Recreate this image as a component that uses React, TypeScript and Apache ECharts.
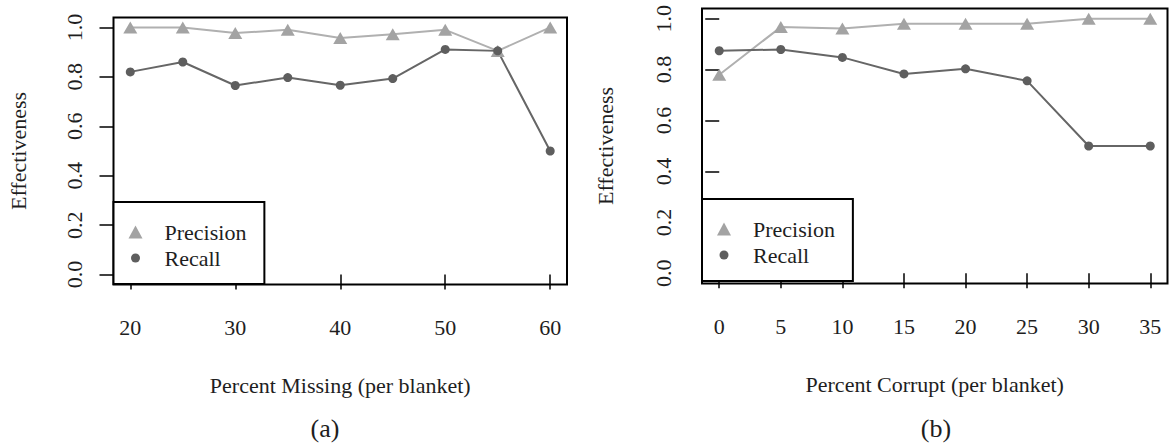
import React, { useEffect, useRef } from "react";
import * as echarts from "echarts";

const missingPct = [20, 25, 30, 35, 40, 45, 50, 55, 60];
const precisionMissing = [1.0, 1.0, 0.977, 0.99, 0.957, 0.972, 0.99, 0.905, 1.0];
const recallMissing = [0.82, 0.86, 0.765, 0.797, 0.766, 0.793, 0.911, 0.905, 0.5];

const corruptPct = [0, 5, 10, 15, 20, 25, 30, 35];
const precisionCorrupt = [0.78, 0.967, 0.961, 0.98, 0.98, 0.98, 1.0, 1.0];
const recallCorrupt = [0.874, 0.879, 0.848, 0.783, 0.803, 0.756, 0.5, 0.5];

const missingTicks = [20, 30, 40, 50, 60];
const corruptTicks = [0, 5, 10, 15, 20, 25, 30, 35];
const yTicks = [0, 0.2, 0.4, 0.6, 0.8, 1.0];

const FONT = "Liberation Serif";
const TXT = "#1e1e1e";
const PREC_COLOR = "#a3a3a3";
const REC_COLOR = "#5e5e5e";
const CIRCLE_ICON =
  "path://M0,0M14,13M2.5,6.5A4.5,4.5,0,1,1,11.5,6.5A4.5,4.5,0,1,1,2.5,6.5Z";

function pair(xs: number[], ys: number[]) {
  return xs.map((x, i) => [x, ys[i]]);
}

function xAxisCfg(grid: number, min: number, max: number, ticks: number[], name: string) {
  return {
    gridIndex: grid,
    type: "value",
    min,
    max,
    axisLine: { show: false },
    splitLine: { show: false },
    axisTick: { show: true, length: 15, customValues: ticks, lineStyle: { color: "#000", width: 1.5 } },
    axisLabel: { customValues: ticks, fontSize: 22, fontFamily: FONT, color: TXT, margin: 32 },
    name,
    nameLocation: "middle",
    nameGap: 90,
    nameTextStyle: { fontSize: 22, fontFamily: FONT, color: TXT },
  };
}

function yAxisCfg(grid: number, gap: number) {
  return {
    gridIndex: grid,
    type: "value",
    min: -0.04,
    max: 1.04,
    axisLine: { show: false },
    splitLine: { show: false },
    axisTick: { show: true, length: 14, customValues: yTicks, lineStyle: { color: "#000", width: 1.5 } },
    axisLabel: {
      customValues: yTicks,
      rotate: 90,
      fontSize: 22,
      fontFamily: FONT,
      color: TXT,
      margin: 28,
      formatter: (v: number) => v.toFixed(1),
    },
    name: "Effectiveness",
    nameLocation: "middle",
    nameGap: gap,
    nameTextStyle: { fontSize: 22, fontFamily: FONT, color: TXT },
  };
}

function legendCfg(left: number, top: number) {
  return {
    orient: "vertical",
    left,
    top,
    padding: [19, 18, 15, 15],
    itemWidth: 14,
    itemHeight: 13,
    itemGap: 4,
    borderColor: "#000",
    borderWidth: 2,
    borderRadius: 0,
    backgroundColor: "#fff",
    selectedMode: false,
    textStyle: { fontSize: 22, fontFamily: FONT, color: TXT, lineHeight: 22, padding: [0, 0, 0, 17] },
    data: [
      { name: "Precision", icon: "triangle", itemStyle: { color: PREC_COLOR } },
      { name: "Recall", icon: CIRCLE_ICON, itemStyle: { color: REC_COLOR } },
    ],
  };
}

function precSeries(axisIdx: number, data: number[][]) {
  return {
    name: "Precision",
    type: "line",
    xAxisIndex: axisIdx,
    yAxisIndex: axisIdx,
    data,
    symbol: "triangle",
    symbolSize: [14, 12],
    lineStyle: { color: "#b0b0b0", width: 2 },
    itemStyle: { color: PREC_COLOR },
  };
}

function recSeries(axisIdx: number, data: number[][]) {
  return {
    name: "Recall",
    type: "line",
    xAxisIndex: axisIdx,
    yAxisIndex: axisIdx,
    data,
    symbol: "circle",
    symbolSize: 9,
    lineStyle: { color: "#666666", width: 2 },
    itemStyle: { color: REC_COLOR },
  };
}

export default function App() {
  const ref = useRef<HTMLDivElement>(null);
  useEffect(() => {
    document.body.style.margin = "0";
    const chart = echarts.init(ref.current!, null, { renderer: "svg" });
    chart.setOption({
      animation: false,
      backgroundColor: "#fff",
      grid: [
        { left: 113.5, top: 17.5, width: 453.5, height: 267, show: true, borderColor: "#000", borderWidth: 2, containLabel: false },
        { left: 702, top: 8.5, width: 465.5, height: 275, show: true, borderColor: "#000", borderWidth: 2, containLabel: false },
      ],
      xAxis: [
        xAxisCfg(0, 18.4, 61.6, missingTicks, "Percent Missing (per blanket)"),
        xAxisCfg(1, -1.4, 36.4, corruptTicks, "Percent Corrupt (per blanket)"),
      ],
      yAxis: [yAxisCfg(0, 84), yAxisCfg(1, 86)],
      legend: [legendCfg(113.5, 202), legendCfg(702, 199)],
      series: [
        precSeries(0, pair(missingPct, precisionMissing)),
        recSeries(0, pair(missingPct, recallMissing)),
        precSeries(1, pair(corruptPct, precisionCorrupt)),
        recSeries(1, pair(corruptPct, recallCorrupt)),
      ],
      graphic: [
        { type: "text", x: 325, y: 428, style: { text: "(a)", fontSize: 26, fontFamily: FONT, fill: TXT, align: "center", verticalAlign: "middle" } },
        { type: "text", x: 936, y: 428, style: { text: "(b)", fontSize: 26, fontFamily: FONT, fill: TXT, align: "center", verticalAlign: "middle" } },
      ],
    });
    return () => chart.dispose();
  }, []);
  return <div ref={ref} style={{ width: 1169, height: 444 }} />;
}
